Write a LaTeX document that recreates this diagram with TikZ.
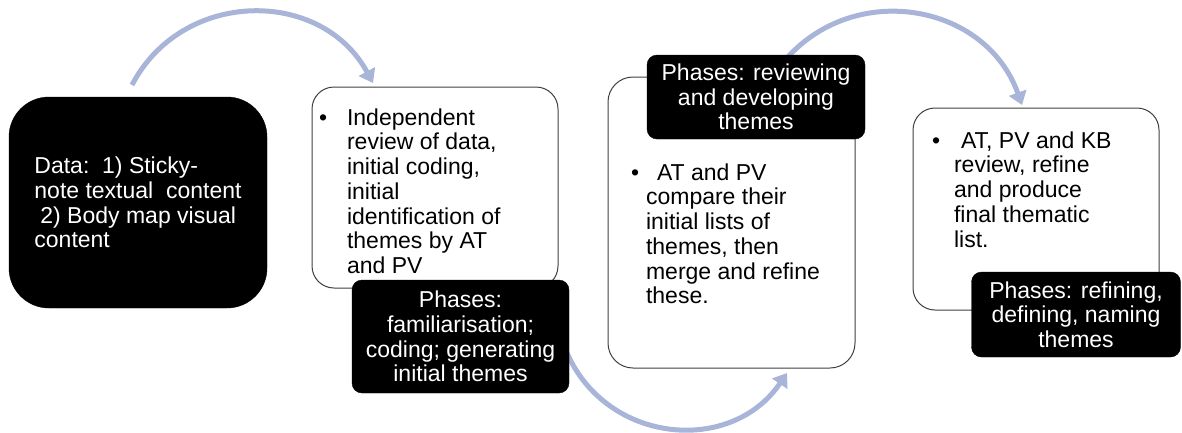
\documentclass[tikz,border=0pt]{standalone}
\usepackage{fontspec}
\setmainfont{Liberation Sans}
\usetikzlibrary{positioning,arrows.meta,backgrounds}
\definecolor{flowblue}{RGB}{168,180,216}

\begin{document}
\begin{tikzpicture}[x=1pt, y=1pt,
	every node/.style={inner sep=0, outer sep=0, font=\fontsize{23}{24.7}\selectfont},
	darkbox/.style={draw=black, fill=black, text=white, rounded corners=10pt, align=center},
	lightbox/.style={draw=black!75, line width=1pt, fill=white, rounded corners=22pt},
	flow/.style={draw=flowblue, line width=5pt, -{Triangle[width=18pt,length=13pt]}}]

		\useasboundingbox (0,0) rectangle (1182,-432);

		%Nodes
		\node[darkbox, rounded corners=40pt, minimum width=258, minimum height=211, align=left] (data) at (138,-202.5)
			{Data:\ \ 1) Sticky-\\note textual\ \ content\\\hspace*{6pt}2) Body map visual\\content};
		\node[lightbox, minimum width=246, minimum height=201] (review) at (435,-187.5) {};
		\node[below right=21pt and 7pt of review.north west] (reviewtxt)
			{\begin{tabular}{@{}l@{\hspace{20pt}}l@{}}
				\textbullet & Independent\\ & review of data,\\ & initial coding,\\ & initial\\
				& identification of\\ & themes by AT\\ & and PV
			\end{tabular}};
		\node[darkbox, minimum width=217, minimum height=113] (phase2) at (460.5,-336.5)
			{Phases:\\familiarisation;\\coding; generating\\initial themes};

		\node[lightbox, rounded corners=25pt, minimum width=247, minimum height=291] (compare) at (731.5,-222.5) {};
		\node[below right=86pt and 23pt of compare.north west] (comparetxt)
			{\begin{tabular}{@{}l@{\hspace{7pt}}l@{}}
				\textbullet & \hspace{11pt}AT and PV\\ & compare their\\ & initial lists of\\
				& themes, then\\ & merge and refine\\ & these.
			\end{tabular}};
		\node[darkbox, minimum width=218, minimum height=84] (phase3) at (756,-97)
			{Phases: reviewing\\and developing\\themes};

		\node[lightbox, minimum width=246, minimum height=202] (final) at (1036,-209) {};
		\node[below right=23pt and 19pt of final.north west] (finaltxt)
			{\begin{tabular}{@{}l@{\hspace{14pt}}l@{}}
				\textbullet & \hspace{7pt}AT, PV and KB\\ & review, refine\\ & and produce\\
				& final thematic\\ & list.
			\end{tabular}};
		\node[darkbox, minimum width=209, minimum height=85] (phase4) at (1076,-314.5)
			{Phases: refining,\\defining, naming\\themes};

		%Lines
		\begin{scope}[on background layer]
		\draw[flow] ([shift={(-6,12)}]data.north) to[bend left=62, looseness=1.15] ([shift={(61,4)}]review.north west);
		\draw[flow] ([shift={(-2,40)}]phase2.south east) to[bend right=61, looseness=1.15] ([shift={(179,-5)}]compare.south west);
		\draw[flow] ([shift={(25,-10)}]phase3.north) to[bend left=61, looseness=1.15] ([shift={(109,3)}]final.north west);
		\end{scope}
	\end{tikzpicture}
\end{document}
